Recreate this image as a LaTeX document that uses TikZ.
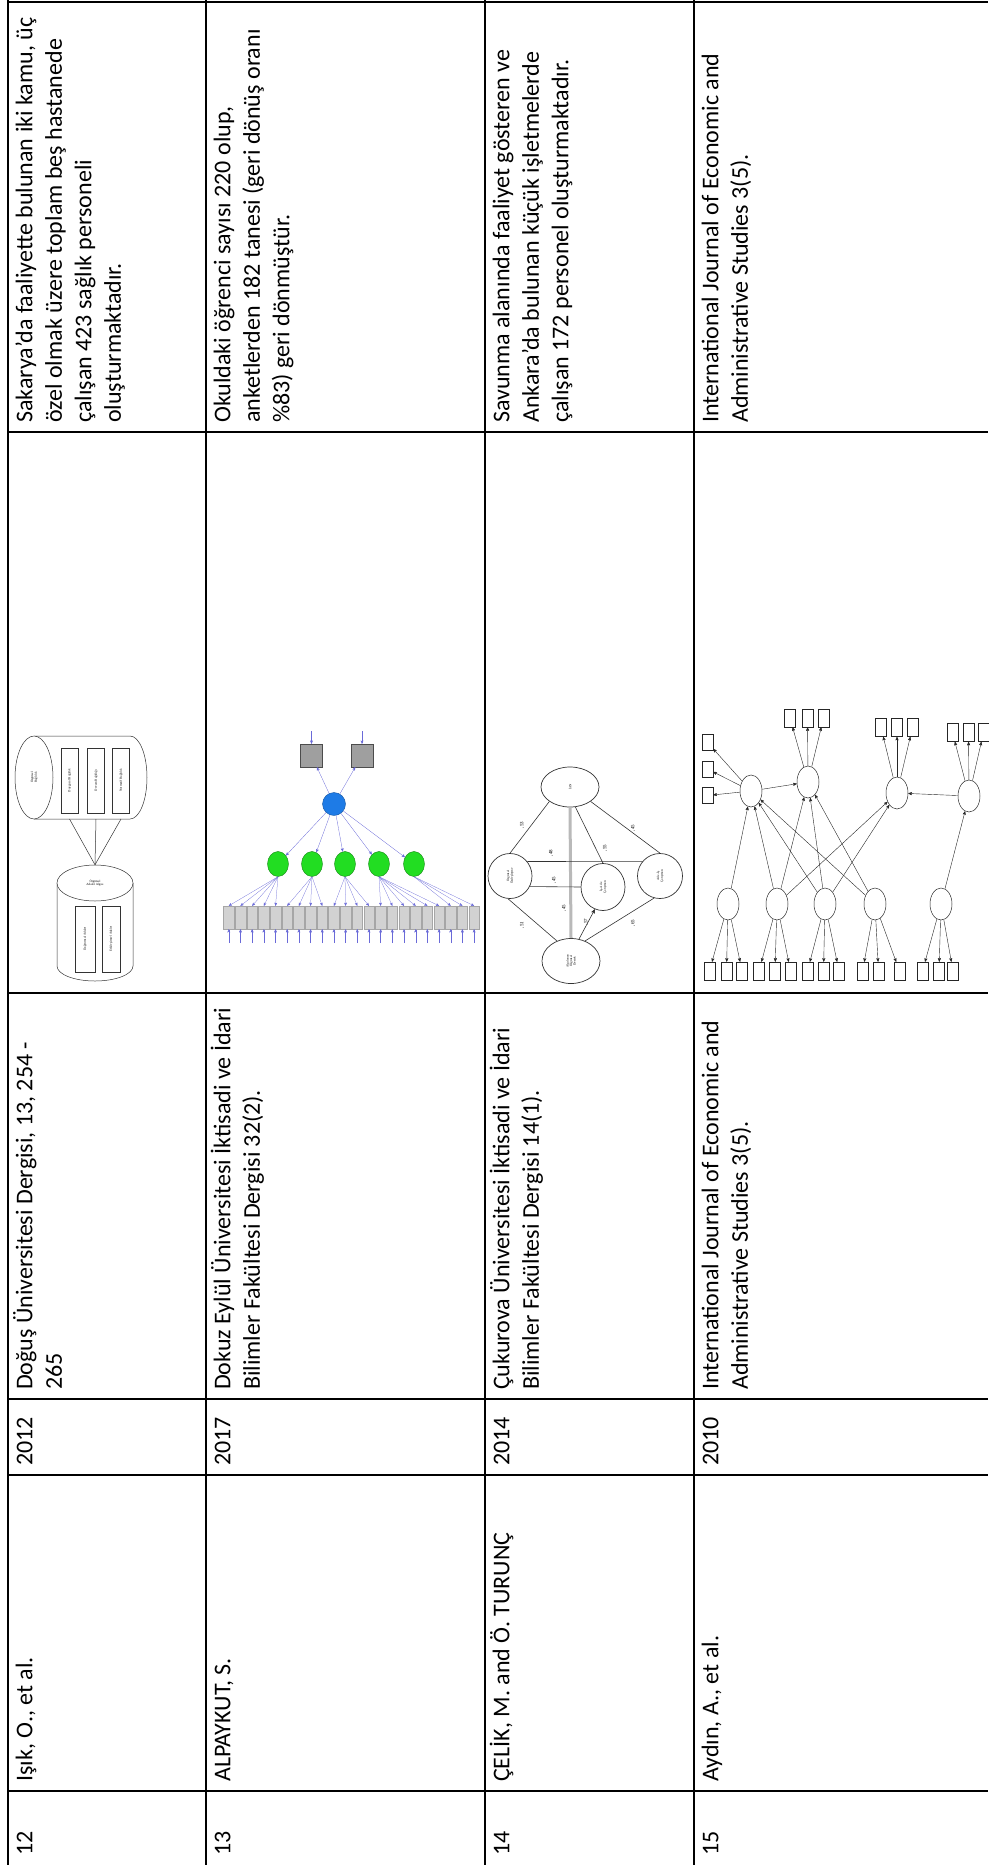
\documentclass[tikz,border=0pt]{standalone}
\usepackage{fontspec}
\setmainfont{Carlito}
\newfontfamily\figfont{Liberation Serif}
\usepackage{tikz}
\usetikzlibrary{arrows, shapes.geometric, positioning}

\definecolor{semblue}{HTML}{1E7BE6}
\definecolor{semgreen}{HTML}{22DD22}
\definecolor{semline}{HTML}{6A6AD8}
\newcommand{\cellfont}{\fontsize{24}{29.5}\selectfont}

\begin{document}
\begin{tikzpicture}[x=1pt, y=-1pt, >=stealth', thin]
    \tikzset{cell/.style={rotate=90, anchor=north west, align=left, inner sep=0pt, font=\cellfont},
             rule/.style={line width=1.5pt},
             fig/.style={draw=black!80, line width=0.5pt},
             tiny/.style={font={\figfont\fontsize{3.2}{3.6}\selectfont}, align=center, inner sep=0pt},
             lbl/.style={font={\figfont\fontsize{5}{5}\selectfont}, rotate=90, inner sep=0pt},
             lat/.style={ellipse, draw=black!80, line width=0.7pt, inner sep=0pt},
             lv/.style={ellipse, draw=black!85, line width=0.5pt, minimum width=22pt, minimum height=32pt, inner sep=0pt},
             ov/.style={rectangle, draw=black!85, line width=0.5pt, minimum width=11pt, minimum height=18pt, inner sep=0pt},
             pth/.style={->, line width=0.4pt, black!85}}
    \useasboundingbox (0,0) rectangle (988,1865);

    % table rules
    \draw[line width=2.5pt] (8,2) -- (988,2);
    \foreach \y in {432, 993, 1399, 1475, 1791}
        \draw[rule] (8,\y) -- (988,\y);
    \foreach \x in {8, 206, 485, 694}
        \draw[rule] (\x,0) -- (\x,1865);

    % row 12
    \node[cell] (no12) at (11.5,1856) {\strut 12};
    \node[cell] (au12) at (11.5,1782) {\strut Işık, O., et al.};
    \node[cell] (yr12) at (11.5,1466) {\strut 2012};
    \node[cell] (jr12) at (11.5,1390) {\strut Doğuş Üniversitesi Dergisi, 13, 254 -\\265};
    \node[cell] (sm12) at (11.5,423) {\strut Sakarya’da faaliyette bulunan iki kamu, üç\\özel olmak üzere toplam beş hastanede\\çalışan 423 sağlık personeli\\oluşturmaktadır.};

    % row 13
    \node[cell] (no13) at (209.5,1856) {\strut 13};
    \node[cell] (au13) at (209.5,1782) {\strut ALPAYKUT, S.};
    \node[cell] (yr13) at (209.5,1466) {\strut 2017};
    \node[cell] (jr13) at (209.5,1390) {\strut Dokuz Eylül Üniversitesi İktisadi ve İdari\\Bilimler Fakültesi Dergisi 32(2).};
    \node[cell] (sm13) at (209.5,423) {\strut Okuldaki öğrenci sayısı 220 olup,\\anketlerden 182 tanesi (geri dönüş oranı\\\%83) geri dönmüştür.};

    % row 14
    \node[cell] (no14) at (488.5,1856) {\strut 14};
    \node[cell] (au14) at (488.5,1782) {\strut ÇELİK, M. and Ö. TURUNÇ};
    \node[cell] (yr14) at (488.5,1466) {\strut 2014};
    \node[cell] (jr14) at (488.5,1390) {\strut Çukurova Üniversitesi İktisadi ve İdari\\Bilimler Fakültesi Dergisi 14(1).};
    \node[cell] (sm14) at (488.5,423) {\strut Savunma alanında faaliyet gösteren ve\\Ankara’da bulunan küçük işletmelerde\\çalışan 172 personel oluşturmaktadır.};

    % row 15
    \node[cell] (no15) at (697.5,1856) {\strut 15};
    \node[cell] (au15) at (697.5,1782) {\strut Aydın, A., et al.};
    \node[cell] (yr15) at (697.5,1466) {\strut 2010};
    \node[cell] (jr15) at (697.5,1390) {\strut International Journal of Economic and\\Administrative Studies 3(5).};
    \node[cell] (sm15) at (697.5,423) {\strut International Journal of Economic and\\Administrative Studies 3(5).};

    % model 12: two cylinders
    \draw[fig] (34,736) -- (130,736) arc[start angle=90, end angle=-90, x radius=17pt, y radius=41.5pt] -- (34,819);
    \node[fig, ellipse, fill=white, minimum width=38pt, minimum height=83pt, inner sep=0pt] (obcap) at (34,777.5) {};
    \node[tiny, rotate=90] at (obcap) {Örgütsel\\Bağlılık};
    \foreach \n/\x/\t in {1/69.5/Duygusal Bağlılık, 2/96/Devam Bağlılığı, 3/121/Normatif Bağlılık} {
        \node[fig, tiny, rotate=90, minimum width=65pt, minimum height=17pt] (ob\n) at (\x,780.5) {\t};
        \coordinate (obf\n) at (\x,819);
    }
    \draw[fig] (57,883) -- (57,966) arc[start angle=180, end angle=360, x radius=38pt, y radius=15pt] -- (133,883);
    \node[fig, ellipse, fill=white, minimum width=76pt, minimum height=36pt, inner sep=0pt] (oacap) at (95,883) {};
    \node[tiny] at (oacap) {Örgütsel\\Adalet Algısı};
    \node[fig, tiny, rotate=90, minimum width=66pt, minimum height=20pt] (oa1) at (85,939) {Dağıtımsal Adalet};
    \node[fig, tiny, rotate=90, minimum width=66pt, minimum height=18pt] (oa2) at (111,939) {Etkileşimsel Adalet};
    \foreach \n in {1,2,3}
        \draw[fig] (obf\n) -- (oacap.north);

    % model 13: second order factor model
    \foreach \n/\x in {1/311.5, 2/362} {
        \node[draw=gray!60!black, fill=gray!75, minimum width=22pt, minimum height=23pt, inner sep=0pt] (out\n) at (\x,755.5) {};
        \coordinate (eo\n) at (\x,731);
        \draw[->, semline, line width=0.3pt] (eo\n) -- (out\n);
    }
    \node[circle, fill=semblue, draw=semblue!70!black, minimum size=23pt, inner sep=0pt] (gen) at (334,804) {};
    \foreach \n in {1,2}
        \draw[->, semline, line width=0.3pt] (gen) -- (out\n);
    \foreach \i/\x in {1/278, 2/312, 3/345, 4/379, 5/414} {
        \node[ellipse, fill=semgreen, draw=semgreen!60!black, minimum width=21pt, minimum height=25pt, inner sep=0pt] (f\i) at (\x,864) {};
        \draw[->, semline, line width=0.3pt] (gen) -- (f\i);
    }
    \foreach \j in {1,...,22} {
        \node[draw=gray!70, fill=gray!35, minimum width=10.5pt, minimum height=23pt, inner sep=0pt] (v\j) at ({228.8+(\j-1)*11.68},917.5) {};
        \coordinate (ev\j) at ({228.8+(\j-1)*11.68},943);
        \draw[->, semline, line width=0.3pt] (ev\j) -- (v\j);
    }
    \foreach \f/\a/\b in {1/1/5, 2/6/9, 3/10/13, 4/14/19, 5/20/22}
        \foreach \j in {\a,...,\b}
            \draw[->, semline, line width=0.25pt] (f\f.south) -- (v\j.north);

    % model 14: five constructs
    \node[lat, minimum width=58pt, minimum height=40pt] (ian) at (570,787) {};
    \node[lat, minimum width=44pt, minimum height=45pt] (oz) at (510,876) {};
    \node[lat, minimum width=44pt, minimum height=47pt] (iac) at (603,887) {};
    \node[lat, minimum width=45pt, minimum height=45pt] (aic) at (660,876) {};
    \node[lat, minimum width=58pt, minimum height=45pt] (aod) at (571,961) {};
    \node[tiny, rotate=90] at (ian) {İAN};
    \node[tiny, rotate=90] at (oz) {Örgütsel\\Özdeşleşme};
    \node[tiny, rotate=90] at (iac) {İş-Aile\\Çatışması};
    \node[tiny, rotate=90] at (aic) {Aile-İş\\Çatışması};
    \node[tiny, rotate=90] at (aod) {Algılanan\\Örgütsel\\Destek};
    \draw[line width=3pt, gray!55] (ian.south) -- (aod.north);
    \draw[fig, line width=0.6pt] (ian.215) -- (oz.north);
    \draw[fig, line width=0.6pt] (ian.-35) -- (aic.north);
    \draw[fig, line width=0.6pt] (ian.-75) -- (iac.north);
    \draw[fig, line width=0.6pt] (oz.40) -- (aic.140);
    \draw[fig, line width=0.6pt] (oz.-28) -- (iac.west);
    \draw[fig, line width=0.6pt] (oz.265) -- (aod.125);
    \draw[fig, line width=0.6pt] (aic.255) -- (aod.55);
    \draw[fig, line width=0.6pt, ->] (aod.70) -- (iac.250);
    \foreach \x/\y/\t in {522/825/{,53}, 633/828/{,45}, 605/848/{,55}, 551/853/{,48}, 554/880/{,45}, 564/908/{,45}, 522/925/{,51}, 586/922/{,57}, 633/923/{,65}}
        \node[lbl] at (\x,\y) {\t};

    % model 15: structural model
    \node[lv] (A) at (751,791) {};
    \node[lv] (B) at (808,782) {};
    \node[lv] (C) at (897,793) {};
    \node[lv] (D) at (969,796) {};
    \foreach \n/\x in {1/728, 2/777, 3/825, 4/875, 5/941}
        \node[lv] (E\n) at (\x,904) {};
    \foreach \n/\y in {1/742.5, 2/769, 3/795.5} {
        \node[ov, minimum height=16pt] (A\n) at (707.5,\y) {};
        \draw[pth] (A) -- (A\n);
    }
    \foreach \n/\x in {1/790, 2/807.5, 3/823.5} {
        \node[ov] (B\n) at (\x,718) {};
        \draw[pth] (B) -- (B\n);
    }
    \foreach \n/\x in {1/881, 2/897, 3/912.5} {
        \node[ov] (C\n) at (\x,727.5) {};
        \draw[pth] (C) -- (C\n);
    }
    \foreach \n/\x in {1/952.5, 2/968.5, 3/983.5} {
        \node[ov] (D\n) at (\x,732.5) {};
        \draw[pth] (D) -- (D\n);
    }
    \foreach \e/\p/\q/\r in {1/709.5/726.5/742, 2/759/775/790.5, 3/807.5/823.5/839, 4/862.5/878.5/899.5, 5/922.5/939/953}
        \foreach [count=\k] \x in {\p,\q,\r} {
            \node[ov] (E\e\k) at (\x,971) {};
            \draw[pth] (E\e) -- (E\e\k);
        }
    \foreach \s/\t in {E1/A, E2/A, E3/A, E4/A, E2/B, E3/B, E4/B, E2/C, E3/C, E5/D, A/B, D/C}
        \draw[pth] (\s) -- (\t);
\end{tikzpicture}
\end{document}
